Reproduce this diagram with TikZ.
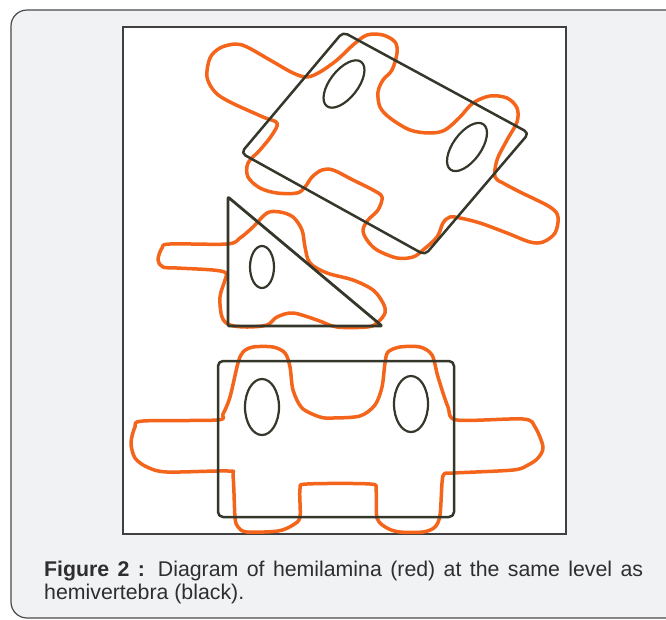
\documentclass[tikz,border=0pt]{standalone}
\usepackage{fontspec}
\setmainfont{Liberation Sans}
\usepackage{xcolor}
\usetikzlibrary{calc}
\definecolor{laminared}{HTML}{F4641A}
\definecolor{vertdark}{HTML}{34372A}
\definecolor{panelgray}{HTML}{F1F2F4}
\definecolor{panelline}{HTML}{4A4A4A}
\definecolor{captext}{HTML}{2E2E2E}

\begin{document}
\begin{tikzpicture}[
  x=1pt, y=-1pt,
  lamina/.style={draw=laminared, line width=3.5pt, line join=round},
  vert/.style={draw=vertdark, line width=2.5pt, rounded corners=5pt, line join=round},
  hole/.style={draw=vertdark, line width=2.2pt},
  caption/.style={text width=599pt, align=justify, inner sep=0pt,
                  text=captext, font=\fontsize{21.3}{23}\selectfont}
]
\useasboundingbox (0,0) rectangle (666,619);
\clip (0,0) rectangle (666,619);

%% panel and image area
\draw[fill=panelgray, draw=panelline, line width=1.2pt, rounded corners=16pt]
  (11,10) rectangle (720,618);
\draw[fill=white, draw=black!75, line width=1.4pt] (123,27) rectangle (566,534);

%% upper vertebra, tilted
\draw[lamina] plot[smooth cycle, tension=0.55] coordinates {
  (210,58) (220,48) (235,44) (247,47) (270,60) (293,73) (307,77) (320,72)
  (337,60) (353,45) (367,35) (383,35) (395,42) (397,53) (392,70) (383,80)
  (378,92) (380,107) (390,118) (410,130) (430,133) (445,130) (460,117)
  (473,103) (490,96) (507,98) (517,108) (517,122) (507,140) (497,160)
  (495,177) (503,183) (520,192) (550,207) (558,217) (555,233) (543,242)
  (530,242) (507,233) (480,223) (460,218) (450,217) (443,223) (437,237)
  (423,250) (413,257) (397,258) (377,250) (367,240) (363,230) (368,220)
  (378,210) (382,197) (373,190) (353,180) (333,170) (322,170) (312,177)
  (305,187) (297,193) (277,193) (260,188) (248,177) (248,163) (260,150)
  (272,135) (277,123) (263,117) (230,102) (215,92) (207,77)};
\draw[vert] (343,32) -- (529,133) -- (425,255) -- (241,153) -- cycle;
\draw[hole, rotate around={52:(344,84)}] (344,84) ellipse [x radius=28, y radius=14];
\draw[hole, rotate around={54:(467,147)}] (467,147) ellipse [x radius=28, y radius=14];

%% hemivertebra in the middle
\draw[lamina] plot[smooth cycle, tension=0.55] coordinates {
  (170,244) (227,244) (240,238) (253,227) (267,213) (280,212) (293,217)
  (302,230) (305,247) (310,263) (327,273) (353,280) (373,290) (383,303)
  (385,313) (377,323) (367,327) (337,327) (317,320) (293,313) (277,317)
  (267,325) (247,327) (230,325) (222,317) (220,297) (225,280) (226,273)
  (213,270) (177,268) (163,267) (158,260) (162,248)};
\draw[vert, line width=2.8pt, rounded corners=1pt]
  (228,197) -- (228,326) -- (382,326) -- cycle;
\draw[hole] (262,267) ellipse [x radius=12, y radius=21];

%% lower vertebra
\draw[lamina] plot[smooth cycle, tension=0.5] coordinates {
  (143,421) (217,420) (223,414) (230,397) (238,363) (243,352) (253,347)
  (273,347) (285,353) (290,367) (293,390) (302,408) (320,417) (333,418)
  (360,416) (375,405) (382,387) (385,363) (388,352) (400,347) (420,347)
  (432,355) (438,377) (448,407) (457,420) (523,419) (535,427) (543,447)
  (538,458) (528,465) (513,470) (453,473) (444,474) (442,483) (440,515)
  (435,527) (423,532) (400,532) (387,528) (377,518) (376,490) (370,484)
  (307,484) (300,489) (300,517) (293,525) (278,531) (247,532) (238,527)
  (235,517) (233,476) (228,471) (167,472) (147,467) (135,458) (131,443)
  (135,427)};
\draw[vert] (218,361) rectangle (454,517);
\draw[hole] (262,407) ellipse [x radius=17, y radius=28];
\draw[hole] (411,404) ellipse [x radius=17, y radius=28];

%% caption
\node[caption, anchor=base west] (cap) at (44,576.5)
  {\textbf{Figure 2 :} Diagram of hemilamina (red) at the same level as\linebreak
   hemivertebra (black).};
\end{tikzpicture}
\end{document}
